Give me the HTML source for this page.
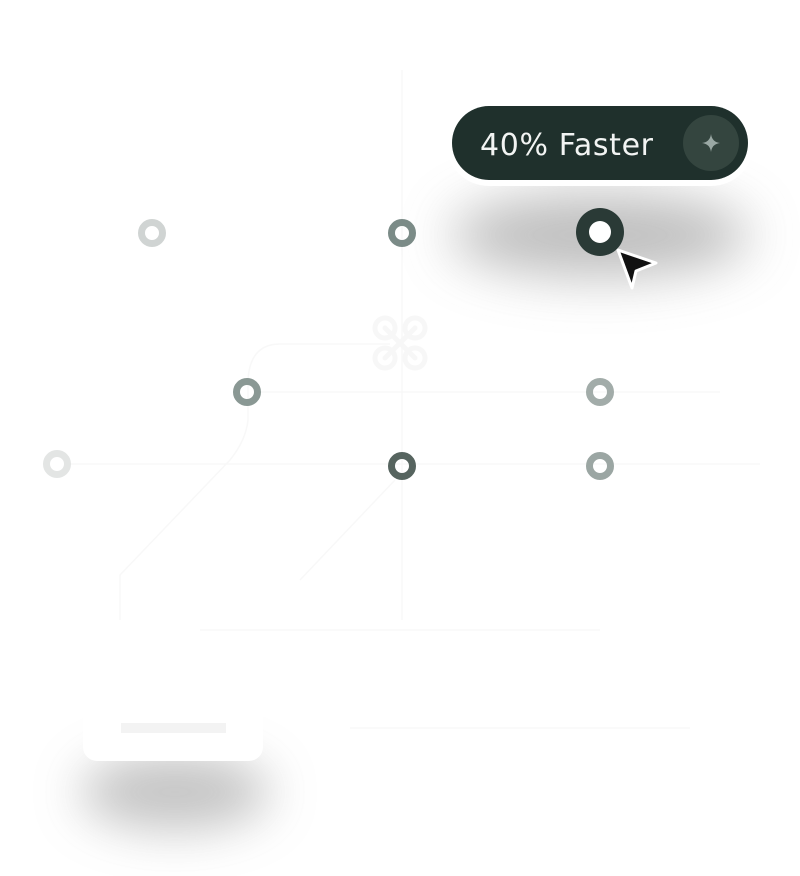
<!DOCTYPE html>
<html><head><style>
html,body{margin:0;padding:0;background:#fff;}
body{width:800px;height:876px;position:relative;overflow:hidden;font-family:"Liberation Sans",sans-serif;}
</style></head><body>
<svg width="800" height="876" style="position:absolute;left:0;top:0">
<defs>
<filter id="b1" x="-50%" y="-100%" width="200%" height="300%"><feGaussianBlur stdDeviation="26"/></filter>
<filter id="b2" x="-50%" y="-100%" width="200%" height="300%"><feGaussianBlur stdDeviation="24"/></filter>
</defs>
<g stroke="#f8f8f8" stroke-width="1.5" fill="none">
<path d="M402 70 V620"/>
<path d="M70 464 H760"/>
<path d="M260 392 H720"/>
<path d="M390 344 H280 Q250 344 248 380 V420 Q246 440 230 460 L120 575 V620"/>
<path d="M395 480 L300 580"/>
<path d="M200 630 H600"/>
<path d="M350 728 H690"/>
</g>
<ellipse cx="600" cy="235" rx="150" ry="42" fill="#a8a8a8" filter="url(#b1)" opacity="0.75"/>
<ellipse cx="175" cy="792" rx="95" ry="38" fill="#b0b0b0" filter="url(#b2)" opacity="0.75"/>
<g stroke="#f7f7f7" stroke-width="5" fill="none" stroke-linecap="round">
<path d="M385 328 L415 358 M415 328 L385 358"/>
<circle cx="385" cy="328" r="10"/><circle cx="415" cy="328" r="10"/><circle cx="385" cy="358" r="10"/><circle cx="415" cy="358" r="10"/>
</g>
<g fill="none" stroke-width="7">
<circle cx="152" cy="233" r="10.5" stroke="#d0d4d3"/>
<circle cx="402" cy="233" r="10.5" stroke="#7b8b87"/>
<circle cx="247" cy="392" r="10.5" stroke="#8a9894"/>
<circle cx="600" cy="392" r="10.5" stroke="#a2aca9"/>
<circle cx="57" cy="464" r="10.5" stroke="#e3e5e4"/>
<circle cx="402" cy="466" r="10.5" stroke="#56645f"/>
<circle cx="600" cy="466" r="10.5" stroke="#9ba6a3"/>
</g>
<circle cx="600" cy="232" r="24" fill="#2a3a36"/>
<circle cx="600" cy="232" r="11" fill="#fff"/>
<path d="M618 250 L656 263 L636 271 L632 288 Z" fill="#111" stroke="#fff" stroke-width="3" stroke-linejoin="round"/>
<rect x="446" y="100" width="308" height="86" rx="43" fill="#fff"/>
<rect x="452" y="106" width="296" height="74" rx="37" fill="#1f302c"/>
<circle cx="711" cy="143" r="28" fill="#34453f"/>
<path d="M711 134 Q712 142 720 143 Q712 144 711 152 Q710 144 702 143 Q710 142 711 134Z" fill="#9aa8a4"/>
<text x="480" y="155" font-family="DejaVu Sans, sans-serif" font-size="30" fill="#f2f4f3" textLength="173">40% Faster</text>
<rect x="83" y="697" width="180" height="64" rx="14" fill="#fff"/>
<rect x="121" y="723" width="105" height="10" fill="#f3f3f3"/>
</svg>
</body></html>
